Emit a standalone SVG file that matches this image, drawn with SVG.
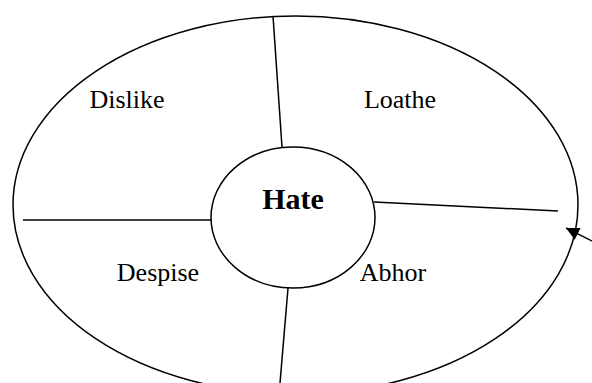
<svg xmlns="http://www.w3.org/2000/svg" width="592" height="383" viewBox="0 0 592 383">
<style>
.shape{fill:none;stroke:#000;stroke-width:1.5}
.ln{stroke:#000;stroke-width:1.5;fill:none}
.lbl{font-family:"Liberation Serif","Times New Roman",serif;font-size:26px;fill:#000}
.ttl{font-family:"Liberation Serif","Times New Roman",serif;font-size:30px;font-weight:bold;fill:#000}
</style>
<defs>
<marker id="ah" viewBox="0 0 10 10" refX="10" refY="5" markerWidth="16" markerHeight="13" markerUnits="userSpaceOnUse" orient="auto">
<path d="M0,0 L10,5 L0,10 Z" fill="#000"/>
</marker>
</defs>
<rect width="592" height="383" fill="#fff"/>
<g id="outer"><ellipse class="shape" cx="295.5" cy="205" rx="282.5" ry="189"/></g>
<g id="connectors">
<line class="ln" x1="273" y1="16" x2="282" y2="147"/>
<line class="ln" x1="23" y1="220" x2="211" y2="220"/>
<line class="ln" x1="374" y1="202" x2="558" y2="211"/>
<line class="ln" x1="288" y1="288" x2="279" y2="395"/>
<line class="ln" x1="594" y1="242" x2="566" y2="228" marker-end="url(#ah)"/>
</g>
<g id="hate"><ellipse class="shape" cx="293" cy="217.5" rx="82" ry="70.5" fill="#fff"/><text class="ttl" x="293" y="209" text-anchor="middle">Hate</text></g>
<g id="dislike"><text class="lbl" x="127" y="108" text-anchor="middle">Dislike</text></g>
<g id="loathe"><text class="lbl" x="400" y="108" text-anchor="middle">Loathe</text></g>
<g id="despise"><text class="lbl" x="158" y="281" text-anchor="middle">Despise</text></g>
<g id="abhor"><text class="lbl" x="393" y="281" text-anchor="middle">Abhor</text></g>
</svg>
